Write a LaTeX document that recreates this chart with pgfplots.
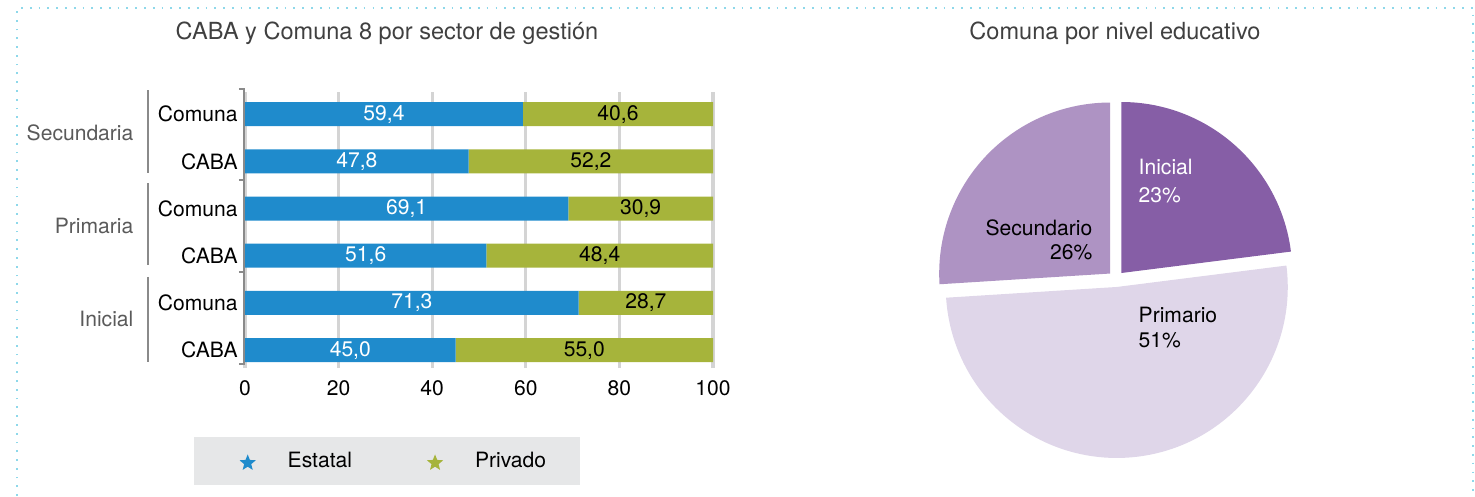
\documentclass[border=0pt]{standalone}
\usepackage{fontspec}
\setmainfont{TeX Gyre Heros}
\usepackage{pgfplots}
\pgfplotsset{compat=1.18}
\usepackage{pgfplotstable}
\usetikzlibrary{shapes.geometric, calc}

\definecolor{estatal}{HTML}{1F8BCC}
\definecolor{privado}{HTML}{A6B43B}
\definecolor{ini}{HTML}{865EA6}
\definecolor{sec}{HTML}{AE93C3}
\definecolor{pri}{HTML}{DFD6E9}
\definecolor{gridc}{HTML}{D4D4D4}
\definecolor{brk}{HTML}{8A8A8A}
\definecolor{titc}{HTML}{404040}
\definecolor{grpc}{HTML}{5A5A5A}
\definecolor{legbg}{HTML}{E6E7E8}
\definecolor{framec}{HTML}{8ED8EA}

% sector de gestion, % por fila (0 = Inicial CABA ... 5 = Secundaria Comuna)
\pgfplotstableread{
pos est priv
0 45.0 55.0
1 71.3 28.7
2 51.6 48.4
3 69.1 30.9
4 47.8 52.2
5 59.4 40.6
}\sector

\newcommand{\fs}{\fontsize{6}{7}\selectfont}

\pgfplotsset{
  baraxis/.style={at={(2.45cm,-3.68cm)}, anchor=south west, scale only axis,
    width=4.68cm, height=2.76cm, xmin=0, xmax=100, ymin=-0.38, ymax=5.47},
}

\begin{document}
\begin{tikzpicture}[x=1cm,y=1cm]
\useasboundingbox (0,0) rectangle (14.75,-4.96);
\draw[framec, line width=0.5pt, dotted] (0.17,-4.96) -- (0.17,-0.08) -- (14.73,-0.08) -- (14.73,-4.96);

\node[text=titc, font=\fontsize{6.7}{8}\selectfont] at (3.87,-0.33) {CABA y Comuna 8 por sector de gestión};
\node[text=titc, font=\fontsize{6.7}{8}\selectfont] at (11.15,-0.33) {Comuna por nivel educativo};

% fondo de la leyenda
\fill[legbg] (1.94,-4.37) rectangle (5.80,-4.85);

\begin{axis}[baraxis, xbar stacked, bar width=0.24cm, clip=false,
  xtick={0,20,...,100}, ytick={0,...,5},
  yticklabels={CABA,Comuna,CABA,Comuna,CABA,Comuna},
  major tick length=0pt, xmajorgrids, grid style={gridc, line width=0.9pt},
  axis lines*=left, axis line style={draw=none},
  tick label style={font=\fs, text=black},
  yticklabel style={xshift=0.05cm},
  /pgf/number format/assume math mode=true,
  legend columns=2,
  legend style={at={(-0.109,-0.344)}, anchor=west, draw=none, fill=none,
    inner sep=0pt, font=\fs, nodes={inner sep=0pt},
    /tikz/every even column/.append style={column sep=0.3cm}},
]
\addplot[fill=estatal, draw=none,
  legend image code/.code={
    \path[fill=none, draw=none] (0,-0.24cm) rectangle (0.93cm,0.24cm);
    \node[star, star points=5, star point ratio=2.3, fill=estatal, draw=none,
      inner sep=0pt, minimum size=0.17cm] at (0.53cm,0) {};}]
  table[x=est, y=pos] {\sector};
\addlegendentry{Estatal}
\addplot[fill=privado, draw=none,
  legend image code/.code={
    \path[fill=none, draw=none] (0,-0.24cm) rectangle (0.93cm,0.24cm);
    \node[star, star points=5, star point ratio=2.3, fill=privado, draw=none,
      inner sep=0pt, minimum size=0.17cm] at (0.53cm,0) {};}]
  table[x=priv, y=pos] {\sector};
\addlegendentry{Privado}

% llaves de agrupacion
\draw[brk, line width=0.6pt] (axis cs:-1.3,5.53) -- (axis cs:-0.2,5.53)
  -- (axis cs:-0.2,-0.3) -- (axis cs:-1.3,-0.3);
\draw[brk, line width=0.6pt] (axis cs:-1.3,3.6) -- (axis cs:-0.2,3.6);
\draw[brk, line width=0.6pt] (axis cs:-1.3,1.65) -- (axis cs:-0.2,1.65);
\draw[brk, line width=0.6pt] (axis cs:-20.7,5.51) -- (axis cs:-20.7,3.75);
\draw[brk, line width=0.6pt] (axis cs:-20.7,3.54) -- (axis cs:-20.7,1.80);
\draw[brk, line width=0.6pt] (axis cs:-20.7,1.55) -- (axis cs:-20.7,-0.25);
\node[anchor=east, text=grpc, font=\fs, inner sep=0pt] at (axis cs:-23.7,4.6) {Secundaria};
\node[anchor=east, text=grpc, font=\fs, inner sep=0pt] at (axis cs:-23.7,2.63) {Primaria};
\node[anchor=east, text=grpc, font=\fs, inner sep=0pt] at (axis cs:-23.7,0.66) {Inicial};
\end{axis}

% valores dentro de las barras
\begin{axis}[baraxis, hide axis, clip=false,
  nodes near coords, nodes near coords align=center, point meta=explicit,
  /pgf/number format/.cd, use comma, fixed, fixed zerofill, precision=1,
  assume math mode=true]
\addplot[draw=none, every node near coord/.append style={text=white, font=\fs}]
  table[x expr=\thisrow{est}/2, y=pos, meta=est] {\sector};
\addplot[draw=none, every node near coord/.append style={text=black, font=\fs}]
  table[x expr=\thisrow{est}+\thisrow{priv}/2, y=pos, meta=priv] {\sector};
\end{axis}

% torta por nivel educativo
\begin{axis}[at={(11.16cm,-2.79cm)}, anchor=origin, x=1cm, y=1cm,
  xmin=-2, xmax=2, ymin=-2, ymax=2, hide axis, clip=false]
\def\angstart{90}
\foreach \p/\col in {23/ini,51/pri,26/sec}{%
  \pgfmathsetmacro\ae{\angstart-3.6*\p}%
  \pgfmathsetmacro\am{(\angstart+\ae)/2}%
  \edef\temp{\noexpand\fill[\col] ($(axis cs:0,0)+(\am:0.08cm)$)
    -- ++(\angstart:1.71cm) arc[start angle=\angstart, end angle=\ae, radius=1.71cm] -- cycle;}%
  \temp
  \xdef\angstart{\ae}%
}
\node[anchor=west, text=white, font=\fs, inner sep=0pt] at (axis cs:0.22,1.12) {Inicial};
\node[anchor=west, text=white, font=\fs, inner sep=0pt] at (axis cs:0.22,0.84) {23\%};
\node[anchor=east, text=black, font=\fs, inner sep=0pt] at (axis cs:-0.23,0.51) {Secundario};
\node[anchor=east, text=black, font=\fs, inner sep=0pt] at (axis cs:-0.23,0.27) {26\%};
\node[anchor=west, text=black, font=\fs, inner sep=0pt] at (axis cs:0.22,-0.36) {Primario};
\node[anchor=west, text=black, font=\fs, inner sep=0pt] at (axis cs:0.22,-0.61) {51\%};
\end{axis}
\end{tikzpicture}
\end{document}
